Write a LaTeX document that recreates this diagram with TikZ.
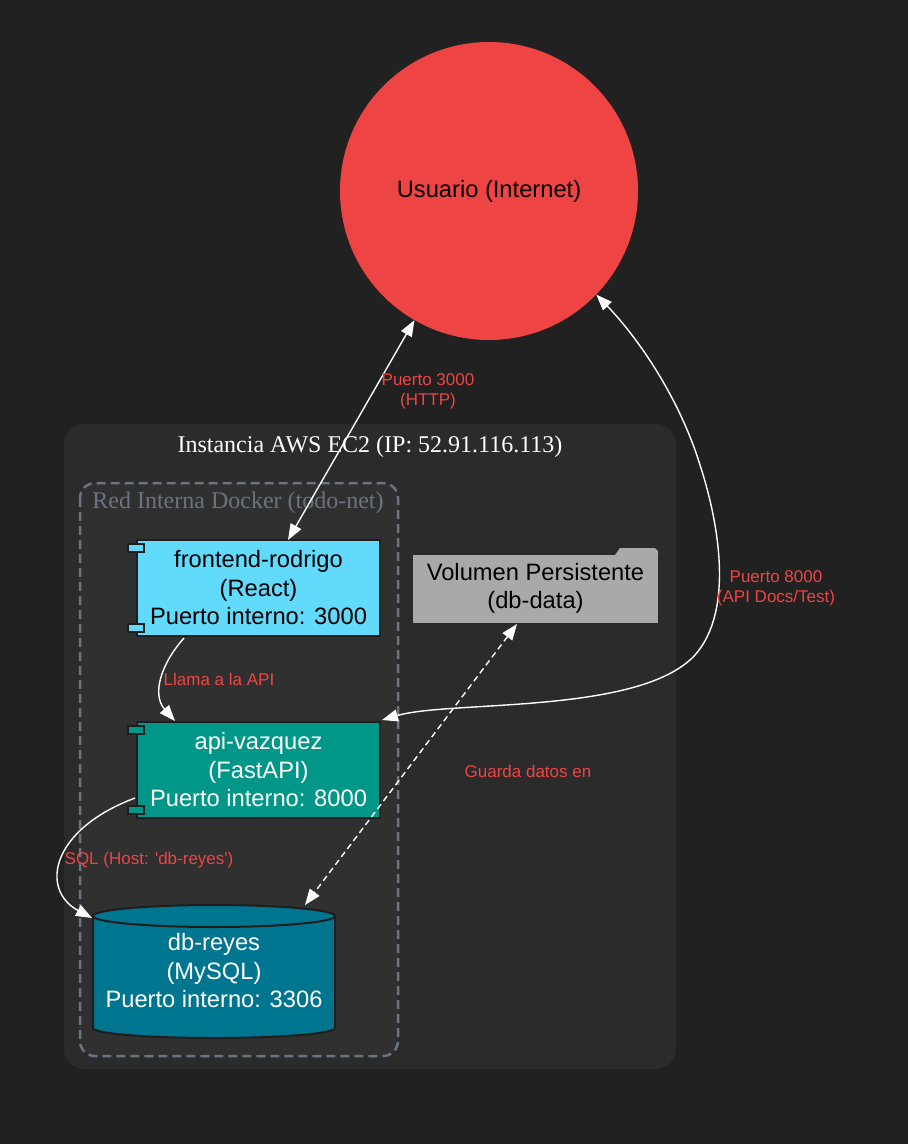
\documentclass[tikz,border=0pt]{standalone}
\usepackage{fontspec}
\setmainfont{Liberation Sans}
\newfontfamily\serifx{Liberation Serif}
\usetikzlibrary{arrows.meta}
\definecolor{bgc}{HTML}{212121}
\definecolor{outerc}{HTML}{2B2B2B}
\definecolor{innerc}{HTML}{303030}
\definecolor{dashc}{HTML}{6B7280}
\definecolor{userc}{HTML}{EF4444}
\definecolor{labc}{HTML}{EF4444}
\definecolor{fec}{HTML}{61DAFB}
\definecolor{apic}{HTML}{009688}
\definecolor{volc}{HTML}{A9A9A9}
\definecolor{dbc}{HTML}{00758F}
\definecolor{edgec}{HTML}{1E1E1E}
\begin{document}
\begin{tikzpicture}[x=1pt,y=-1pt,
  big/.style={font=\fontsize{23.7}{28.5}\selectfont, align=center, inner sep=0pt},
  comp/.style={big, draw=edgec, line width=1.5pt, minimum width=243pt, minimum height=96pt},
  tabbox/.style={draw=edgec, line width=1.5pt},
  lab/.style={font=\fontsize{17}{20}\selectfont, text=labc, align=center, inner sep=0pt},
  conn/.style={draw=white, line width=1.4pt, {Triangle[length=16pt,width=12pt]}-{Triangle[length=16pt,width=12pt]}},
  conn1/.style={draw=white, line width=1.4pt, -{Triangle[length=16pt,width=12pt]}},
]
\useasboundingbox (0,0) rectangle (908,1144);
\fill[bgc] (0,0) rectangle (908,1144);

% clusters
\fill[outerc, rounded corners=20pt] (64,424) rectangle (676,1069);
\node[font=\serifx\fontsize{24}{28}\selectfont, text=white, inner sep=0pt] (ec2lab) at (370,447) {Instancia AWS EC2 (IP: 52.91.116.113)};
\draw[innerc, fill=innerc, rounded corners=15pt] (80,483) rectangle (398,1056);
\draw[dashc, line width=2.5pt, dash pattern=on 9pt off 5pt, rounded corners=15pt] (80,483) rectangle (398,1056);
\node[font=\serifx\fontsize{24}{28}\selectfont, text=dashc, inner sep=0pt] (netlab) at (238,503) {Red Interna Docker (todo-net)};

% user
\node[circle, fill=userc, minimum size=298pt, inner sep=0pt, big] (u) at (489,191) {Usuario (Internet)};

% frontend
\node[comp, fill=fec, text=black] (fe) at (258.5,588) {frontend-rodrigo\\(React)\\Puerto interno: 3000};
\draw[tabbox, fill=fec] (128,544) rectangle (144,552);
\draw[tabbox, fill=fec] (128,624) rectangle (144,632);

% api
\node[comp, fill=apic, text=white] (api) at (258.5,770) {api-vazquez\\(FastAPI)\\Puerto interno: 8000};
\draw[tabbox, fill=apic] (128,726) rectangle (144,734);
\draw[tabbox, fill=apic] (128,806) rectangle (144,814);

% volume (folder)
\fill[volc] (615,555) -- (620,548) -- (655,548) -- (658,551) -- (658,555) -- cycle;
\node[big, fill=volc, text=black, minimum width=245pt, minimum height=68pt] (vol) at (535.5,588.5) {Volumen Persistente\\(db-data)};

% database cylinder
\fill[dbc, draw=edgec, line width=2pt] (93,916) -- (93,1028) arc[start angle=180, end angle=0, x radius=121, y radius=10] -- (335,916) -- cycle;
\draw[edgec, line width=2pt, fill=dbc] (214,916) ellipse [x radius=121, y radius=11];
\node[big, text=white, minimum width=242pt, minimum height=100pt] (db) at (214,971) {db-reyes\\(MySQL)\\Puerto interno: 3306};
\coordinate (dbtopl) at (92,918);
\coordinate (dbtopr) at (305,905);

% edges
\coordinate (fetop) at (288,540);
\draw[conn] (u.240) -- (fetop);
\node[lab] (l1) at (428,391) {Puerto 3000\\(HTTP)};

\coordinate (apitr) at (382,720);
\draw[conn] (apitr) .. controls (450,700) and (640,715) .. (695,655)
  .. controls (735,610) and (718,520) .. (700,465)
  .. controls (680,400) and (640,340) .. (u.-44);
\node[lab] (l2) at (776,588) {Puerto 8000\\(API Docs/Test)};

\coordinate (febot) at (184,638);
\coordinate (apitop) at (175,721);
\draw[conn1] (febot) .. controls (160,665) and (152,695) .. (apitop);
\node[lab] (l3) at (219,679) {Llama a la API};

\coordinate (apileft) at (135,798);
\draw[conn1] (apileft) .. controls (50,830) and (40,890) .. (dbtopl);
\node[lab] (l4) at (149,860) {SQL (Host: \textquotesingle db-reyes\textquotesingle)};

\coordinate (volbot) at (517,624);
\draw[conn, dash pattern=on 6pt off 4pt] (volbot) -- (dbtopr);
\node[lab] (l5) at (528,771) {Guarda datos en};
\end{tikzpicture}
\end{document}
